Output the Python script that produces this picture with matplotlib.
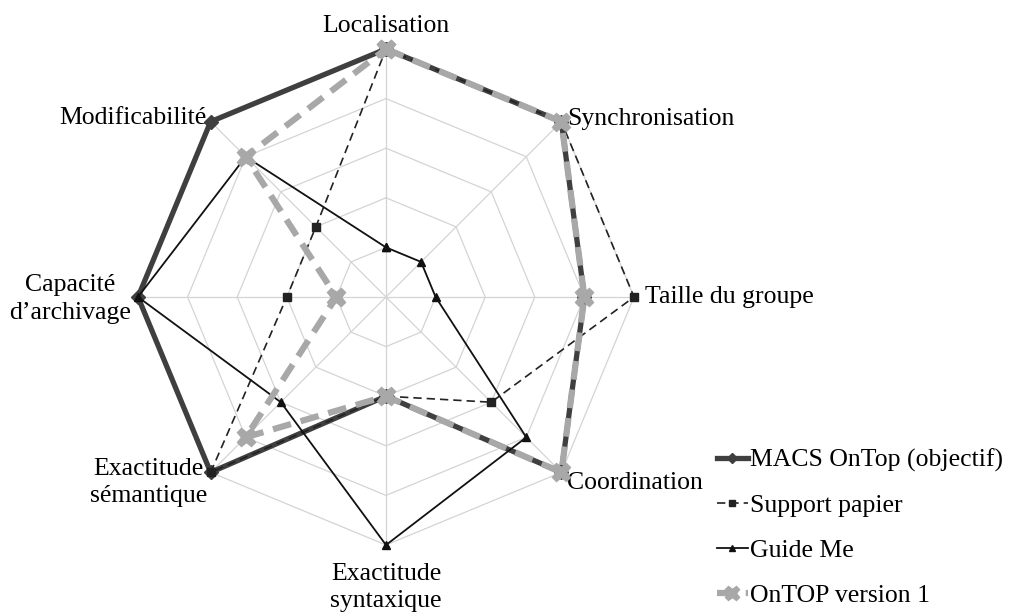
import numpy as np
import matplotlib
matplotlib.use("Agg")
import matplotlib.pyplot as plt
import matplotlib.transforms as mt

categories = ["Localisation", "Synchronisation", "Taille du groupe", "Coordination",
              "Exactitude\nsyntaxique", "Exactitude\nsémantique", "Capacité\nd'archivage",
              "Modificabilité"]
macs = [5, 5, 4, 5, 2, 5, 5, 5]
papier = [5, 5, 5, 3, 2, 5, 2, 2]
guide = [1, 1, 1, 4, 5, 3, 5, 4]
ontop1 = [5, 5, 4, 5, 2, 4, 1, 4]
series_names = ["MACS OnTop (objectif)", "Support papier", "Guide Me", "OnTOP version 1"]
levels = [1, 2, 3, 4, 5]

plt.rcParams['font.family'] = ['Liberation Serif', 'DejaVu Serif']

W, H = 1013, 614
fig = plt.figure(figsize=(W / 100, H / 100), dpi=100)
cx, cy, R = 386, 297, 248
ax = fig.add_axes([(cx - R) / W, (H - cy - R) / H, 2 * R / W, 2 * R / H], projection='polar')
ax.set_theta_offset(np.pi / 2)
ax.set_theta_direction(-1)
ax.set_ylim(0, 5)
ax.grid(False)
ax.spines['polar'].set_visible(False)
ax.set_xticks([])
ax.set_yticks([])
ax.patch.set_alpha(0)

n = len(categories)
ang = np.linspace(0, 2 * np.pi, n, endpoint=False)
angc = np.append(ang, ang[0])

gc = '#d4d4d4'
for lv in levels:
    ax.plot(angc, [lv] * (n + 1), color=gc, lw=0.9, zorder=1)
for a in ang:
    ax.plot([a, a], [0, levels[-1]], color=gc, lw=0.9, zorder=1)

def close(v):
    return np.append(v, v[0])

h1, = ax.plot(angc, close(macs), color='#3f3f3f', lw=3.8, marker='D', ms=7,
              label=series_names[0], zorder=3, clip_on=False)
h2, = ax.plot(angc, close(papier), color='#222222', lw=1.2, ls=(0, (5, 3)), marker='s', ms=6,
              label=series_names[1], zorder=4, clip_on=False)
h3, = ax.plot(angc, close(guide), color='#111111', lw=1.3, marker='^', ms=6,
              label=series_names[2], zorder=4, clip_on=False)
h4, = ax.plot(angc, close(ontop1), color='#a8a8a8', lw=4.5, ls=(0, (3, 1.6)), marker='X', ms=13,
              mec='#a8a8a8', mfc='#a8a8a8', label=series_names[3], zorder=5, clip_on=False)

fs = 18.5
lab_pos = [
    (5.55, 'center', 'center'),
    (5.3, 'left', 'center'),
    (5.3, 'left', 'center'),
    (5.3, 'left', 'center'),
    (5.9, 'center', 'center'),
    (5.35, 'right', 'center'),
    (5.35, 'right', 'center'),
    (5.3, 'right', 'center'),
]
offsets = [(0, -4), (-5, -8), (-4, 0), (-5, 0), (0, 2), (9, 2), (10, -2), (6, -7)]
for i, (r, ha, va) in enumerate(lab_pos):
    t = ax.text(ang[i], r, categories[i].replace("'", "\u2019"), ha=ha, va=va, fontsize=fs,
                multialignment='center', linespacing=1.3)
    dx, dy = offsets[i]
    t.set_transform(ax.transData + mt.ScaledTranslation(dx / 100, dy / 100, fig.dpi_scale_trans))

fig.legend(handles=[h1, h2, h3, h4], loc='upper left', bbox_to_anchor=(704 / W, 1 - 436 / H),
           frameon=False, fontsize=fs, handlelength=1.2, handletextpad=0.1,
           labelspacing=0.85, borderpad=0, markerscale=0.8)

fig.savefig("out.png", dpi=100, facecolor='white')
